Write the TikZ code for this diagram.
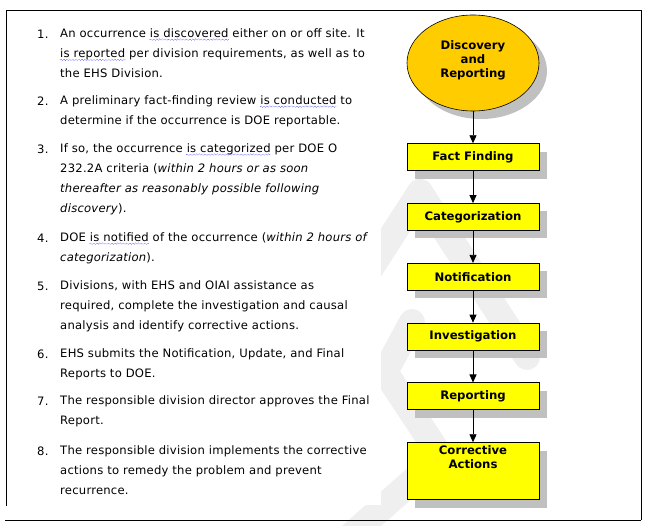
\documentclass[tikz,border=0pt]{standalone}
\usepackage{fontspec}
\setmainfont{DejaVu Sans}
\newfontfamily\itemfont{DejaVu Sans}[LetterSpace=2.0]
\usetikzlibrary{shapes,arrows.meta,positioning,shadows,decorations.pathmorphing}

\definecolor{discgold}{HTML}{FFCC00}
\definecolor{stageyellow}{HTML}{FFFF00}
\definecolor{shadowgray}{HTML}{C0C0C0}
\definecolor{markgray}{HTML}{EFEFEF}

% wavy spell-check underline
\newcommand\spellwave[1]{\tikz[baseline=(w.base)]{\node [inner sep=0pt] (w) {#1};
    \draw [overlay, blue, line width=0.45pt, densely dotted, decorate,
        decoration={snake, amplitude=0.7pt, segment length=3pt}]
        ([yshift=-2.6pt]w.base west) -- ([yshift=-2.6pt]w.base east);}}

\begin{document}
\begin{tikzpicture}[
    x=1pt, y=-1pt,
    node distance=32pt,
    >={Triangle[width=7pt,length=8pt]},
    every node/.style={align=center}
]

% Define styles
\tikzstyle{stage} = [rectangle, draw, line width=0.8pt, fill=stageyellow,
    minimum width=132pt, minimum height=27pt, inner sep=0pt,
    font=\fontsize{11.7}{14}\selectfont\bfseries,
    drop shadow={shadow xshift=8pt, shadow yshift=-8pt, fill=shadowgray, opacity=1}]
\tikzstyle{event} = [ellipse, draw, line width=0.6pt, fill=discgold,
    minimum width=132pt, minimum height=96pt, inner sep=0pt, text depth=7.7pt,
    font=\fontsize{11.7}{14}\selectfont\bfseries,
    drop shadow={shadow xshift=8pt, shadow yshift=-8pt, fill=shadowgray, opacity=1}]
\tikzstyle{line} = [draw, line width=0.8pt, ->]
\tikzstyle{num} = [anchor=north west, inner sep=0pt, text height=10.8pt,
    font=\fontsize{11.6}{20.3}\selectfont\itemfont]
\tikzstyle{item} = [anchor=north west, inner sep=0pt, align=left,
    font=\fontsize{11.6}{20.3}\selectfont\itemfont]
\tikzstyle{band} = [draw=markgray, line width=26pt, line cap=round, line join=round]

\useasboundingbox (0,0) rectangle (649,526);

% Watermark
\begin{scope}
\clip (0,0) rectangle (649,526);
\draw [band] (420,192) -- (527,357);
\draw [band] (420,192) -- (360,285);
\draw [band] (412,322) -- (385,372) -- (440,455);
\draw [band] (425,470) -- (340,545);
\end{scope}

% Text panel and frame
\fill [white] (6,10) rectangle (381,505);
\draw [line width=0.8pt] (6,506) -- (6,10) -- (641,10) -- (641,520);
\draw [line width=0.8pt] (5,520) -- (641,520);

% Steps
\node [num] (n1) at (37,28) {1.};
\node [item] (t1) at (60,28) {An occurrence \spellwave{is discovered} either on or off site. It\\
    \spellwave{is reported} per division requirements, as well as to\\the EHS Division.};
\node [num] (n2) at (37,95) {2.};
\node [item] (t2) at (60,95) {A preliminary fact-finding review \spellwave{is conducted} to\\
    determine if the occurrence is DOE reportable.};
\node [num] (n3) at (37,143) {3.};
\node [item] (t3) at (60,143) {If so, the occurrence \spellwave{is categorized} per DOE O\\
    232.2A criteria (\textit{within 2 hours or as soon}\\
    \textit{thereafter as reasonably possible following}\\\textit{discovery}).};
\node [num] (n4) at (37,232) {4.};
\node [item] (t4) at (60,232) {DOE \spellwave{is notified} of the occurrence (\textit{within 2 hours of}\\
    \textit{categorization}).};
\node [num] (n5) at (37,280) {5.};
\node [item] (t5) at (60,280) {Divisions, with EHS and OIAI assistance as\\
    required, complete the investigation and causal\\analysis and identify corrective actions.};
\node [num] (n6) at (37,348) {6.};
\node [item] (t6) at (60,348) {EHS submits the Notification, Update, and Final\\Reports to DOE.};
\node [num] (n7) at (37,395) {7.};
\node [item] (t7) at (60,395) {The responsible division director approves the Final\\Report.};
\node [num] (n8) at (37,445) {8.};
\node [item] (t8) at (60,445) {The responsible division implements the corrective\\
    actions to remedy the problem and prevent\\recurrence.};

% Flow chart
\node [event] (disc) at (473,63) {Discovery\\and\\Reporting};
\node [stage, below=of disc] (fact) {Fact Finding};
\node [stage, below=of fact] (categ) {Categorization};
\node [stage, below=of categ] (notif) {Notification};
\node [stage, below=of notif] (invest) {Investigation};
\node [stage, below=of invest] (report) {Reporting};
\node [stage, below=of report, minimum height=57pt, text depth=28.7pt] (correct) {Corrective\\Actions};

% Paths
\path [line] (disc) -- (fact);
\path [line] (fact) -- (categ);
\path [line] (categ) -- (notif);
\path [line] (notif) -- (invest);
\path [line] (invest) -- (report);
\path [line] (report) -- (correct);

\end{tikzpicture}
\end{document}
